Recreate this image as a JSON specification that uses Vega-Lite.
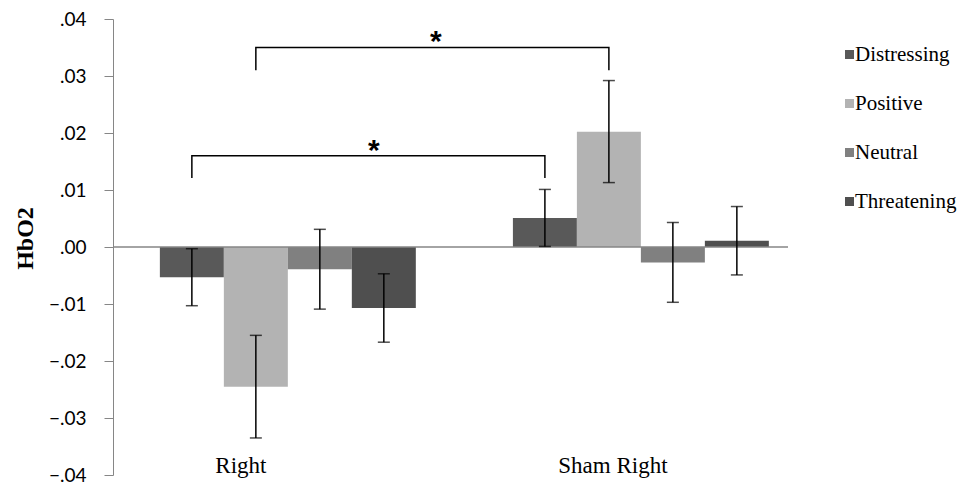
{
  "$schema": "https://vega.github.io/schema/vega-lite/v6.json",
  "width": 675,
  "height": 456,
  "autosize": {"type": "none"},
  "padding": {"left": 113, "top": 19, "right": 183, "bottom": 20},
  "background": "white",
  "config": {"view": {"stroke": null}},
  "datasets": {
    "bars": [
      {"group": "Right", "condition": "Distressing", "value": -0.0053, "lo": -0.0103, "hi": -0.0003},
      {"group": "Right", "condition": "Positive", "value": -0.0245, "lo": -0.0335, "hi": -0.0155},
      {"group": "Right", "condition": "Neutral", "value": -0.0039, "lo": -0.0109, "hi": 0.0031},
      {"group": "Right", "condition": "Threatening", "value": -0.0107, "lo": -0.0167, "hi": -0.0047},
      {"group": "Sham Right", "condition": "Distressing", "value": 0.0051, "lo": 0.0001, "hi": 0.0101},
      {"group": "Sham Right", "condition": "Positive", "value": 0.0202, "lo": 0.0113, "hi": 0.0292},
      {"group": "Sham Right", "condition": "Neutral", "value": -0.0027, "lo": -0.0097, "hi": 0.0043},
      {"group": "Sham Right", "condition": "Threatening", "value": 0.0011, "lo": -0.0049, "hi": 0.0071}
    ],
    "bracket": [
      {"id": "a", "group": "Right", "condition": "Distressing", "y": 0.0121},
      {"id": "a", "group": "Right", "condition": "Distressing", "y": 0.016},
      {"id": "a", "group": "Sham Right", "condition": "Distressing", "y": 0.016},
      {"id": "a", "group": "Sham Right", "condition": "Distressing", "y": 0.0121},
      {"id": "b", "group": "Right", "condition": "Positive", "y": 0.031},
      {"id": "b", "group": "Right", "condition": "Positive", "y": 0.035},
      {"id": "b", "group": "Sham Right", "condition": "Positive", "y": 0.035},
      {"id": "b", "group": "Sham Right", "condition": "Positive", "y": 0.031}
    ],
    "starLow": [
      {"label": "*", "group": "Right", "condition": "Threatening", "y": 0.0177}
    ],
    "starHigh": [
      {"label": "*", "group": "Right", "condition": "Threatening", "y": 0.0368}
    ]
  },
  "layer": [
    {
      "data": {"name": "bars"},
      "mark": {"type": "bar", "width": {"band": 1}},
      "encoding": {
        "x": {
          "field": "group", "type": "nominal", "sort": ["Right", "Sham Right"],
          "scale": {"paddingInner": 0.275, "paddingOuter": 0.0935, "align": 0.71},
          "axis": {
            "orient": "bottom", "title": null, "domain": false, "ticks": false,
            "labelAngle": 0, "labelFont": "Liberation Serif", "labelFontSize": 23,
            "labelColor": "black", "labelBaseline": "alphabetic", "labelPadding": -3,
            "labelOffset": {"condition": {"test": "datum.value === 'Right'", "value": -47}, "value": -28}
          }
        },
        "xOffset": {
          "field": "condition", "type": "nominal",
          "sort": ["Distressing", "Positive", "Neutral", "Threatening"],
          "scale": {"paddingInner": 0, "paddingOuter": 0}
        },
        "y": {
          "field": "value", "type": "quantitative",
          "scale": {"domain": [-0.04, 0.04], "nice": false, "zero": false},
          "axis": {
            "title": "HbO2", "titleFont": "Liberation Serif", "titleFontWeight": "bold",
            "titleFontSize": 24, "titleColor": "black", "titleAngle": -90,
            "titleX": -88, "titleY": 219, "titleAlign": "center", "titleBaseline": "middle",
            "values": [-0.04, -0.03, -0.02, -0.01, 0, 0.01, 0.02, 0.03, 0.04],
            "labelExpr": "replace(format(datum.value, '.2f'), '0.', '.')",
            "labelFont": "Lato", "labelFontSize": 19, "labelColor": "black", "labelPadding": 18,
            "tickSize": 9, "tickColor": "#868686", "domainColor": "#868686",
            "grid": false
          }
        },
        "y2": {"datum": 0},
        "color": {
          "field": "condition", "type": "nominal",
          "sort": ["Distressing", "Positive", "Neutral", "Threatening"],
          "scale": {
            "domain": ["Distressing", "Positive", "Neutral", "Threatening"],
            "range": ["#595959", "#b3b3b3", "#808080", "#4f4f4f"]
          },
          "legend": {
            "title": null, "orient": "none", "legendX": 726, "legendY": 25,
            "symbolType": "square", "symbolSize": 81, "symbolStrokeWidth": 0,
            "labelFont": "Liberation Serif", "labelFontSize": 21, "labelColor": "black",
            "rowPadding": 27, "labelOffset": -5
          }
        }
      }
    },
    {
      "data": {"values": [{}]},
      "mark": {"type": "rule", "color": "#868686", "strokeWidth": 1.5},
      "encoding": {"y": {"datum": 0}}
    },
    {
      "data": {"name": "bars"},
      "mark": {"type": "rule", "color": "black", "strokeWidth": 1.5},
      "encoding": {
        "x": {"field": "group", "type": "nominal", "sort": ["Right", "Sham Right"], "bandPosition": 0.5},
        "xOffset": {"field": "condition", "type": "nominal", "sort": ["Distressing", "Positive", "Neutral", "Threatening"]},
        "y": {"field": "lo", "type": "quantitative"},
        "y2": {"field": "hi"}
      }
    },
    {
      "data": {"name": "bars"},
      "mark": {"type": "tick", "color": "black", "thickness": 1.5, "size": 12, "orient": "horizontal"},
      "encoding": {
        "x": {"field": "group", "type": "nominal", "sort": ["Right", "Sham Right"]},
        "xOffset": {"field": "condition", "type": "nominal", "sort": ["Distressing", "Positive", "Neutral", "Threatening"]},
        "y": {"field": "lo", "type": "quantitative"}
      }
    },
    {
      "data": {"name": "bars"},
      "mark": {"type": "tick", "color": "black", "thickness": 1.5, "size": 12, "orient": "horizontal"},
      "encoding": {
        "x": {"field": "group", "type": "nominal", "sort": ["Right", "Sham Right"]},
        "xOffset": {"field": "condition", "type": "nominal", "sort": ["Distressing", "Positive", "Neutral", "Threatening"]},
        "y": {"field": "hi", "type": "quantitative"}
      }
    },
    {
      "data": {"name": "bracket"},
      "mark": {"type": "line", "color": "black", "strokeWidth": 1.5},
      "encoding": {
        "x": {"field": "group", "type": "nominal", "sort": ["Right", "Sham Right"]},
        "xOffset": {"field": "condition", "type": "nominal", "sort": ["Distressing", "Positive", "Neutral", "Threatening"]},
        "y": {"field": "y", "type": "quantitative"},
        "detail": {"field": "id"},
        "order": {"value": 0}
      }
    },
    {
      "data": {"name": "starLow"},
      "mark": {"type": "text", "font": "Liberation Sans", "fontSize": 30, "fontWeight": "bold", "color": "black", "baseline": "alphabetic", "dy": 14, "dx": -10},
      "encoding": {
        "x": {"field": "group", "type": "nominal", "sort": ["Right", "Sham Right"]},
        "xOffset": {"field": "condition", "type": "nominal", "sort": ["Distressing", "Positive", "Neutral", "Threatening"]},
        "y": {"field": "y", "type": "quantitative"},
        "text": {"field": "label"}
      }
    },
    {
      "data": {"name": "starHigh"},
      "mark": {"type": "text", "font": "Liberation Sans", "fontSize": 30, "fontWeight": "bold", "color": "black", "baseline": "alphabetic", "dy": 14, "dx": 52},
      "encoding": {
        "x": {"field": "group", "type": "nominal", "sort": ["Right", "Sham Right"]},
        "xOffset": {"field": "condition", "type": "nominal", "sort": ["Distressing", "Positive", "Neutral", "Threatening"]},
        "y": {"field": "y", "type": "quantitative"},
        "text": {"field": "label"}
      }
    }
  ],
  "resolve": {"scale": {"x": "shared"}}
}
